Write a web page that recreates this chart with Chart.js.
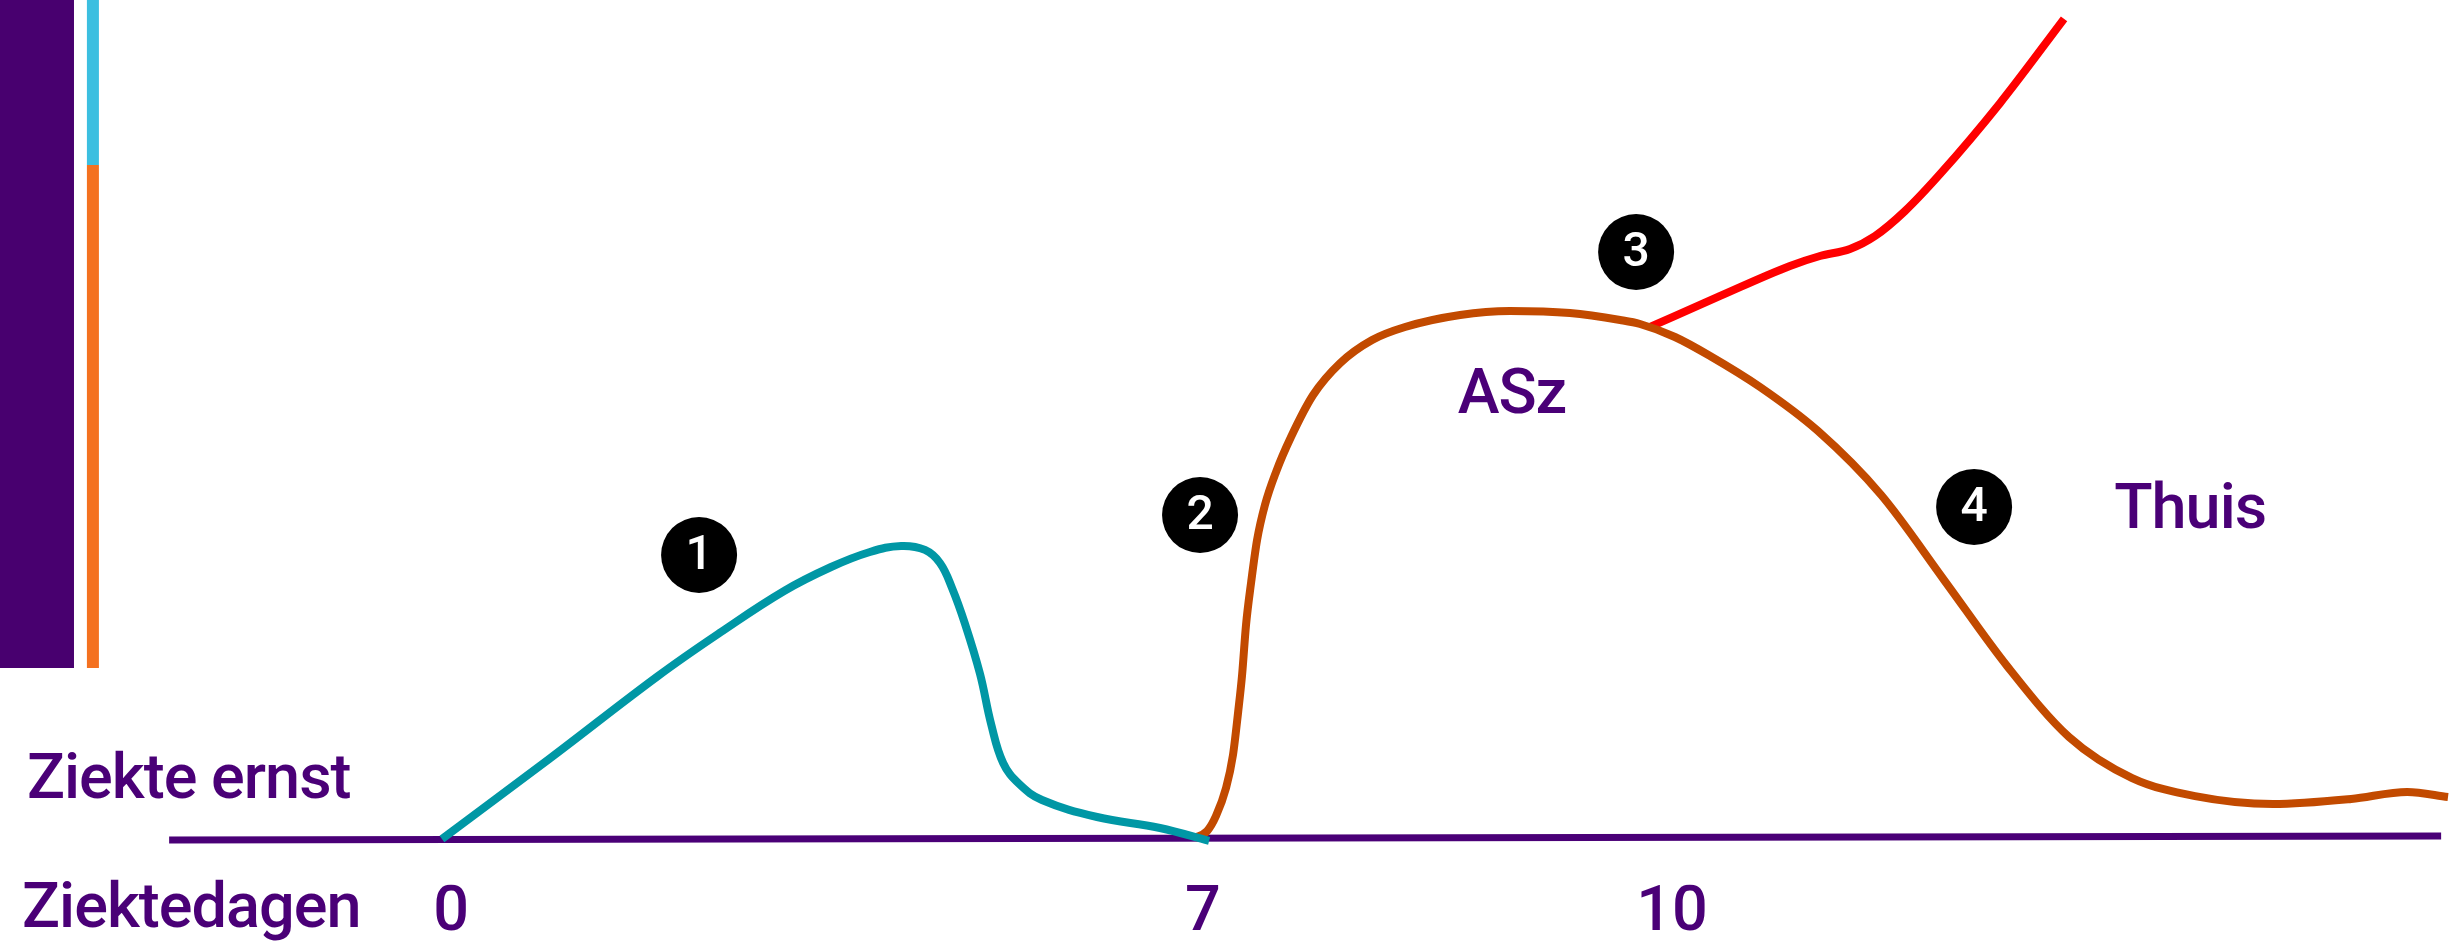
<!DOCTYPE html>
<html>
<head>
<meta charset="utf-8">
<script src="https://cdn.jsdelivr.net/npm/chart.js@4.4.1/dist/chart.umd.min.js"></script>
<style>
  html, body { margin: 0; padding: 0; background: #fff; }
  #wrap { width: 2458px; height: 944px; position: relative; }
</style>
</head>
<body>
<div id="wrap"><canvas id="ziekteChart"></canvas></div>
<script>
// Time axis: tick positions along the x scale and their labels (days)
const dayTicks = [18.35, 48.94, 68.02];
const dayLabels = ['0', '7', '10'];

// Phase 1 (teal): first illness bump
const phase1X = [17.98, 22.34, 26.77, 29.33, 31.90, 33.81, 35.39, 36.66, 37.63, 38.24, 38.73, 39.26, 39.87, 40.32, 40.81, 41.46, 42.39, 44.63, 47.19, 49.19];
const phase1Y = [0.14, 9.18, 18.57, 23.54, 28.18, 30.89, 32.59, 33.27, 32.82, 31.34, 28.52, 24.45, 18.79, 13.14, 8.73, 6.36, 4.55, 2.62, 1.38, -0.09];

// Phase 2 (orange): hospital (ASz), then recovery at home
const phase2X = [48.58, 49.11, 49.47, 49.88, 50.16, 50.37, 50.53, 50.69, 50.90, 51.14, 51.46, 51.91, 52.52, 53.42, 54.52, 55.82, 57.16, 59.40, 61.43, 63.87, 65.91, 66.72, 68.14, 69.57, 71.60, 73.96, 76.53, 79.09, 81.65, 84.17, 86.74, 89.30, 92.47, 95.65, 97.93, 99.59];
const phase2Y = [0.25, 1.04, 2.74, 5.92, 9.63, 14.50, 18.68, 24.33, 29.19, 33.94, 37.90, 41.63, 45.59, 50.34, 53.95, 56.56, 58.03, 59.39, 59.84, 59.61, 58.82, 58.37, 56.90, 54.75, 51.24, 46.26, 39.03, 29.42, 19.70, 11.67, 7.03, 4.98, 4.09, 4.66, 5.45, 4.88];

// Phase 3 (red): deterioration
const phase3X = [67.13, 69.98, 72.82, 74.04, 75.26, 76.28, 77.50, 78.93, 81.37, 83.97];
const phase3Y = [58.04, 61.54, 64.93, 66.06, 66.85, 68.32, 71.15, 75.34, 83.37, 92.87];

// Numbered markers
const markerX = [28.44, 48.82, 66.56, 80.31];
const markerY = [32.25, 36.77, 66.51, 37.68];
const markerLabels = ['1', '2', '3', '4'];

// Baseline (time axis line)
const axisX = [6.88, 99.31];
const axisY = [0.02, 0.47];

// Severity bars on the left: [x, yTop, yBottom]
const severityBar = [1.505, 95, 19.46];
const scaleBarCyan = [3.78, 95, 76.36];
const scaleBarOrange = [3.78, 76.36, 19.46];

// Text labels
const labelTexts = ['ASz', 'Thuis', 'Ziekte ernst', 'Ziektedagen'];
const labelX = [61.51, 89.10, 1.10, 0.90];
const labelY = [48.30, 35.34, 4.77, -9.81];
const labelAlign = ['center', 'center', 'left', 'left'];

const purple = '#4a0077';
const font = 'Roboto, "Liberation Sans", sans-serif';

function zip(xs, ys) {
    return xs.map((x, i) => ({ x: x, y: ys[i] }));
}
function bar(b) {
    return [{ x: b[0], y: b[1] }, { x: b[0], y: b[2] }];
}

// Draw the marker numbers and the text labels
const textPlugin = {
    id: 'texts',
    afterDatasetsDraw(chart) {
        const ctx = chart.ctx;
        const xs = chart.scales.x;
        const ys = chart.scales.y;
        ctx.save();
        ctx.fillStyle = '#ffffff';
        ctx.font = '500 48px ' + font;
        ctx.textAlign = 'center';
        ctx.textBaseline = 'middle';
        chart.getDatasetMeta(0).data.forEach((pt, i) => {
            ctx.fillText(markerLabels[i], pt.x, pt.y + 2);
        });
        ctx.fillStyle = purple;
        ctx.font = '500 63px ' + font;
        ctx.letterSpacing = '-1px';
        ctx.textBaseline = 'alphabetic';
        labelTexts.forEach((t, i) => {
            ctx.textAlign = labelAlign[i];
            ctx.fillText(t, xs.getPixelForValue(labelX[i]), ys.getPixelForValue(labelY[i]));
        });
        ctx.restore();
    }
};

const lineStyle = { showLine: true, pointRadius: 0, fill: false, clip: false, cubicInterpolationMode: 'monotone', borderCapStyle: 'butt' };

const ctx = document.getElementById('ziekteChart').getContext('2d');
const chart = new Chart(ctx, {
    type: 'scatter',
    data: {
        datasets: [
            { data: zip(markerX, markerY), pointRadius: 38, pointBackgroundColor: '#000', pointBorderWidth: 0, showLine: false },
            Object.assign({}, lineStyle, { data: zip(phase1X, phase1Y), borderColor: '#0097a5', borderWidth: 8, cubicInterpolationMode: 'default', tension: 0.4 }),
            Object.assign({}, lineStyle, { data: zip(phase2X, phase2Y), borderColor: '#c24a00', borderWidth: 8 }),
            Object.assign({}, lineStyle, { data: zip(phase3X, phase3Y), borderColor: '#ff0000', borderWidth: 8 }),
            Object.assign({}, lineStyle, { data: zip(axisX, axisY), borderColor: purple, borderWidth: 7 }),
            Object.assign({}, lineStyle, { data: bar(severityBar), borderColor: '#48006f', borderWidth: 74 }),
            Object.assign({}, lineStyle, { data: bar(scaleBarCyan), borderColor: '#3bbfe0', borderWidth: 12 }),
            Object.assign({}, lineStyle, { data: bar(scaleBarOrange), borderColor: '#f47120', borderWidth: 12 })
        ]
    },
    options: {
        responsive: true,
        maintainAspectRatio: false,
        animation: false,
        layout: { padding: { left: 38, right: 38, top: 38, bottom: 0 } },
        plugins: { legend: { display: false }, tooltip: { enabled: false } },
        scales: {
            x: {
                type: 'linear',
                min: 1.546,
                max: 98.45,
                grid: { display: false, drawTicks: false },
                border: { display: false },
                afterBuildTicks: scale => {
                    scale.ticks = dayTicks.map(v => ({ value: v }));
                },
                ticks: {
                    padding: -8,
                    maxRotation: 0,
                    autoSkip: false,
                    color: purple,
                    font: { family: font, size: 63, weight: 500 },
                    callback: (value, index) => dayLabels[index]
                }
            },
            y: {
                display: false,
                min: -5,
                max: 90.71
            }
        }
    },
    plugins: [textPlugin]
});
</script>
</body>
</html>
